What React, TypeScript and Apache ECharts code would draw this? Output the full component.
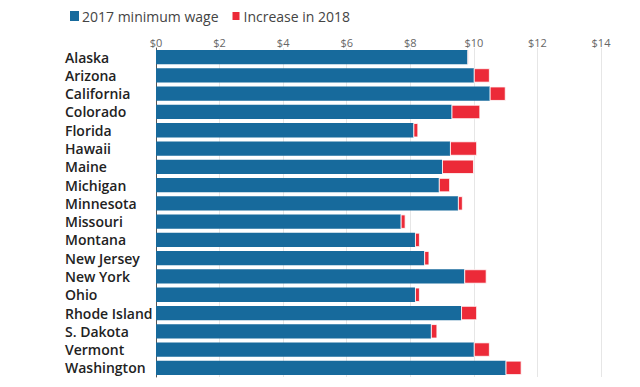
import React, { useEffect, useRef } from "react";
import * as echarts from "echarts";

const states = [
  "Alaska", "Arizona", "California", "Colorado", "Florida", "Hawaii", "Maine",
  "Michigan", "Minnesota", "Missouri", "Montana", "New Jersey", "New York",
  "Ohio", "Rhode Island", "S. Dakota", "Vermont", "Washington",
];
const wage2017 = [9.8, 10.0, 10.5, 9.3, 8.1, 9.25, 9.0, 8.9, 9.5, 7.7, 8.15, 8.44, 9.7, 8.15, 9.6, 8.65, 10.0, 11.0];
const increase2018 = [0.04, 0.5, 0.5, 0.9, 0.15, 0.85, 1.0, 0.35, 0.15, 0.15, 0.15, 0.16, 0.7, 0.15, 0.5, 0.2, 0.5, 0.5];
const xTicks = [0, 2, 4, 6, 8, 10, 12, 14];

export default function App() {
  const ref = useRef<HTMLDivElement>(null);
  useEffect(() => {
    document.body.style.margin = "0";
    const chart = echarts.init(ref.current!, null, { renderer: "svg" });
    chart.setOption({
      animation: false,
      backgroundColor: "#ffffff",
      legend: {
        left: 65,
        top: 4,
        itemWidth: 9,
        itemHeight: 10,
        itemGap: 12,
        icon: "rect",
        textStyle: { fontFamily: "Open Sans", fontSize: 14, color: "#444", padding: [0, 0, 0, -2] },
        data: ["2017 minimum wage", "Increase in 2018"],
      },
      grid: { left: 156, right: 39, top: 48, bottom: 10 },
      xAxis: {
        type: "value",
        position: "top",
        min: xTicks[0],
        max: xTicks[xTicks.length - 1],
        interval: 2,
        axisLine: { show: false },
        axisTick: { show: false },
        axisLabel: {
          margin: 0,
          fontFamily: "Open Sans",
          fontSize: 11,
          color: "#666",
          formatter: (v: number) => "$" + v,
        },
        splitLine: { show: true, lineStyle: { color: "#e6e6e6", width: 1 } },
      },
      yAxis: {
        type: "category",
        inverse: true,
        data: states,
        axisLine: { show: true, lineStyle: { color: "#555", width: 1 } },
        axisTick: { show: false },
        axisLabel: {
          align: "left",
          margin: 91,
          fontFamily: "Open Sans",
          fontWeight: 600,
          fontSize: 14,
          color: "#222",
        },
      },
      series: [
        {
          name: "2017 minimum wage",
          type: "bar",
          stack: "w",
          data: wage2017,
          barCategoryGap: "22%",
          itemStyle: { color: "#176a9c" },
        },
        {
          name: "Increase in 2018",
          type: "bar",
          stack: "w",
          data: increase2018,
          itemStyle: { color: "#ec2a38", borderColor: "#ffffff", borderWidth: 0.8 },
        },
      ],
    });
    return () => chart.dispose();
  }, []);
  return <div ref={ref} style={{ width: 640, height: 387 }} />;
}
